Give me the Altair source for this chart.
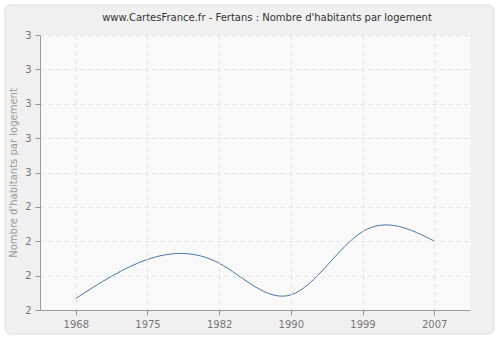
import altair as alt
import pandas as pd

years = ["1968", "1975", "1982", "1990", "1999", "2007"]
values = [2.042, 2.184, 2.170, 2.055, 2.285, 2.251]
title_text = "www.CartesFrance.fr - Fertans : Nombre d'habitants par logement"

df = pd.DataFrame({"year": years, "value": values})

W, H = 430, 275

outer = alt.Chart(pd.DataFrame({"a": [0]})).mark_rect(
    fill="#f0f0f0", stroke="#dcdcdc", strokeWidth=1, cornerRadius=6, clip=False
).encode(x=alt.value(-35), x2=alt.value(454), y=alt.value(-30), y2=alt.value(299))

inner = alt.Chart(pd.DataFrame({"a": [0]})).mark_rect(
    fill="#f9f9f9", clip=False
).encode(x=alt.value(0), x2=alt.value(W), y=alt.value(0), y2=alt.value(H))

title = alt.Chart(pd.DataFrame({"t": [title_text]})).mark_text(
    font="DejaVu Sans", fontSize=10, color="#333333", align="center",
    baseline="middle", clip=False
).encode(x=alt.value(227), y=alt.value(-17), text="t:N")

line = alt.Chart(df).mark_line(
    interpolate="natural", color="#4a76a8", strokeWidth=1
).encode(
    x=alt.X("year:O", sort=None, scale=alt.Scale(type="point", padding=0.5),
            axis=alt.Axis(title=None, labelAngle=0, grid=True, gridDash=[4, 4],
                          gridColor="#e2e2e2", domainColor="#999999",
                          tickColor="#999999", labelColor="#777777",
                          labelFontSize=10, labelFont="DejaVu Sans",
                          tickSize=5, labelPadding=4, zindex=1)),
    y=alt.Y("value:Q", scale=alt.Scale(domain=[2, 3], nice=False, zero=False),
            axis=alt.Axis(title="Nombre d'habitants par logement",
                          values=[2, 2.125, 2.25, 2.375, 2.5, 2.625, 2.75, 2.875, 3],
                          format=".0f", grid=True, gridDash=[4, 4],
                          gridColor="#e2e2e2", domainColor="#999999",
                          tickColor="#999999", labelColor="#777777",
                          labelFontSize=10, labelFont="DejaVu Sans",
                          titleColor="#999999", titleFontSize=10,
                          titleFont="DejaVu Sans", titleFontWeight="normal",
                          tickSize=5, labelPadding=4, titlePadding=6, zindex=1)),
)

chart = alt.layer(outer, inner, title, line).properties(
    width=W, height=H,
    autosize=alt.AutoSizeParams(type="none"),
    padding={"left": 40, "top": 35, "right": 30, "bottom": 30},
    background="white",
).configure_view(stroke=None)

chart.save("out.html", embed_options={"renderer": "svg", "actions": False})
